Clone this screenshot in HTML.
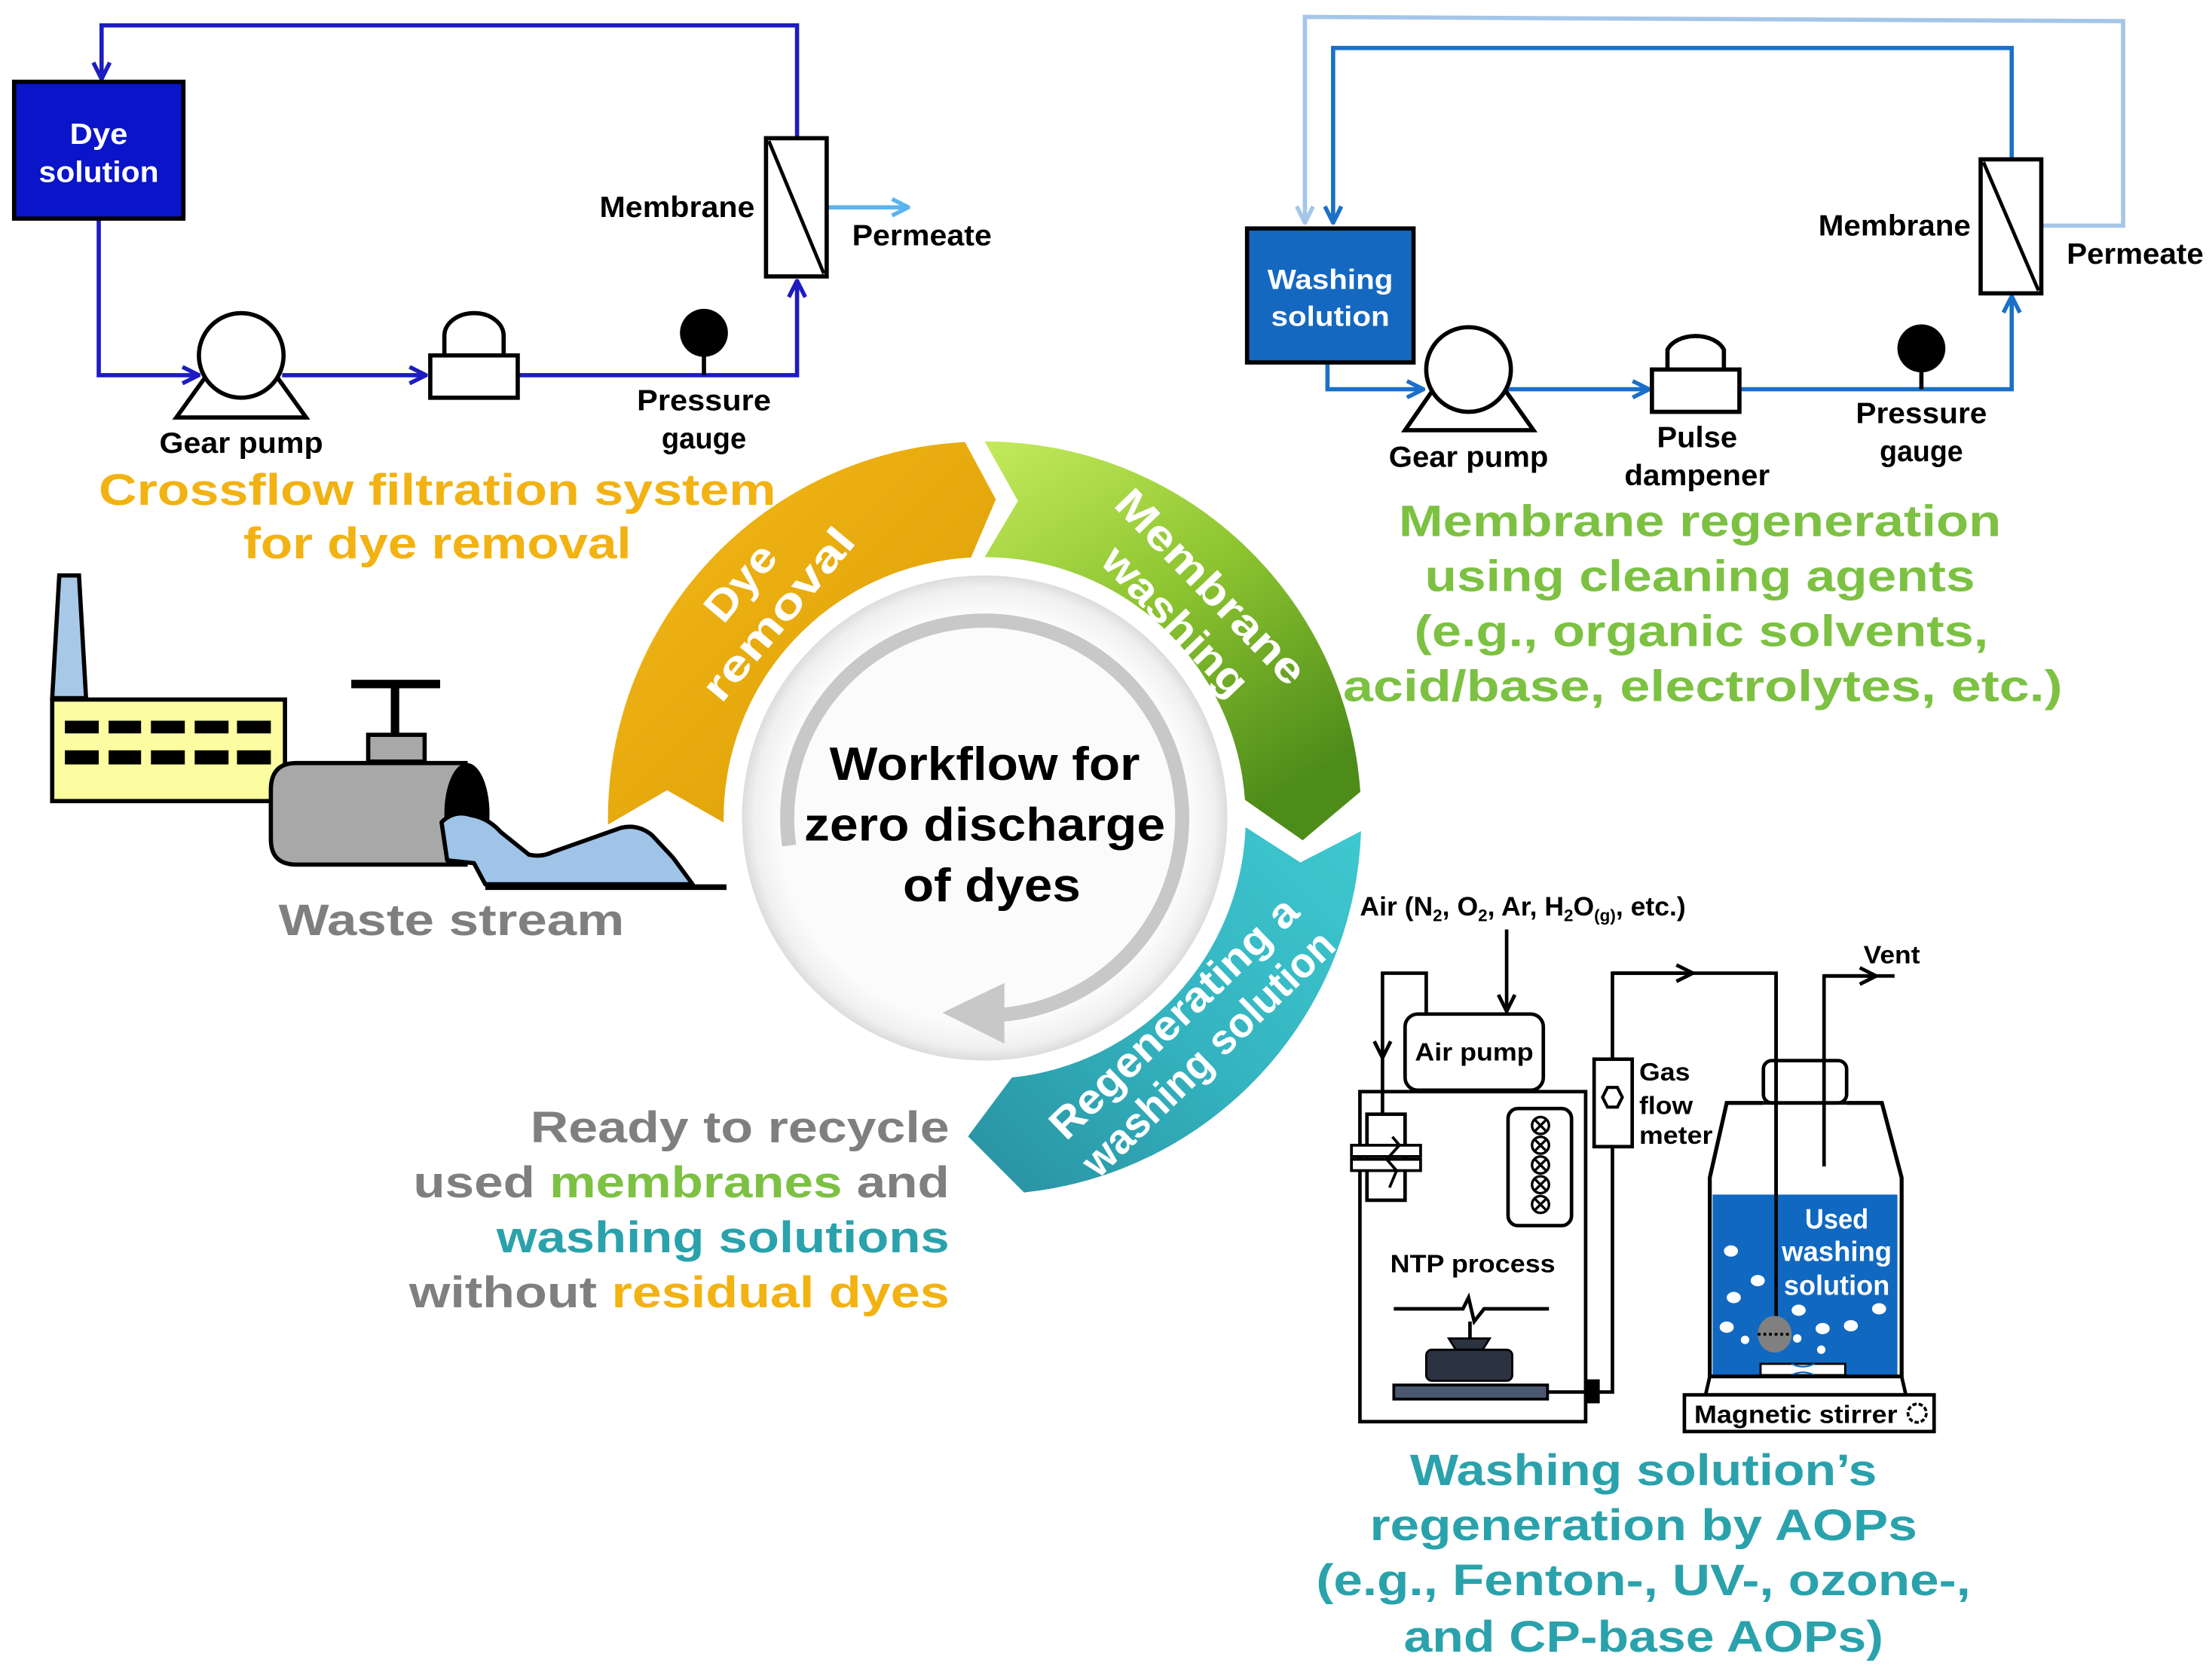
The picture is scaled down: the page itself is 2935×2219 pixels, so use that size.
<!DOCTYPE html>
<html><head><meta charset="utf-8"><style>
html,body{margin:0;padding:0;background:#fff;}
svg{display:block;}
text{font-family:"Liberation Sans",Arial,sans-serif;font-weight:bold;}
</style></head><body>
<svg width="2935" height="2219" viewBox="0 0 1568 1185.5" preserveAspectRatio="none" xmlns="http://www.w3.org/2000/svg" font-family="Liberation Sans, Arial, sans-serif">
<defs>
<marker id="mb" viewBox="0 0 12 12" refX="11" refY="6" markerWidth="14" markerHeight="14" markerUnits="userSpaceOnUse" orient="auto"><path d="M1,1 L11,6 L1,11" fill="none" stroke="#1c1cc0" stroke-width="2.5"/></marker>
<marker id="mw" viewBox="0 0 12 12" refX="11" refY="6" markerWidth="14" markerHeight="14" markerUnits="userSpaceOnUse" orient="auto"><path d="M1,1 L11,6 L1,11" fill="none" stroke="#1a70c8" stroke-width="2.5"/></marker>
<marker id="ml" viewBox="0 0 12 12" refX="11" refY="6" markerWidth="14" markerHeight="14" markerUnits="userSpaceOnUse" orient="auto"><path d="M1,1 L11,6 L1,11" fill="none" stroke="#a4c6e8" stroke-width="2.5"/></marker>
<marker id="mp" viewBox="0 0 12 12" refX="11" refY="6" markerWidth="14" markerHeight="14" markerUnits="userSpaceOnUse" orient="auto"><path d="M1,1 L11,6 L1,11" fill="none" stroke="#5ab4f0" stroke-width="2.5"/></marker>
<marker id="mk" viewBox="0 0 12 12" refX="11" refY="6" markerWidth="14" markerHeight="14" markerUnits="userSpaceOnUse" orient="auto"><path d="M1,1 L11,6 L1,11" fill="none" stroke="#000" stroke-width="2.2"/></marker>
<linearGradient id="go" x1="0" y1="0" x2="1" y2="1"><stop offset="0" stop-color="#f4b81a"/><stop offset="0.6" stop-color="#e4a80c"/><stop offset="1" stop-color="#c08a0c"/></linearGradient>
<linearGradient id="gg" x1="0" y1="0" x2="0.6" y2="1"><stop offset="0" stop-color="#c4ea5c"/><stop offset="0.5" stop-color="#8cc430"/><stop offset="1" stop-color="#4e8c1a"/></linearGradient>
<linearGradient id="gt" x1="1" y1="0" x2="0" y2="1"><stop offset="0" stop-color="#3ec8d0"/><stop offset="0.5" stop-color="#34b4c0"/><stop offset="1" stop-color="#2890a0"/></linearGradient>
<radialGradient id="gd" cx="0.5" cy="0.5" r="0.5"><stop offset="0.85" stop-color="#fbfbfb"/><stop offset="0.95" stop-color="#f0f0f0"/><stop offset="1" stop-color="#dcdcdc"/></radialGradient>
</defs>

<!-- ===== Top-left crossflow ===== -->
<g fill="none" stroke="#1c1cc0" stroke-width="3">
<path d="M565,98 L565,18 L72,18 L72,56" marker-end="url(#mb)"/>
<path d="M70,155 L70,266 L141,266" marker-end="url(#mb)"/>
<path d="M200,266 L302,266" marker-end="url(#mb)"/>
<path d="M367,266 L565,266 L565,199" marker-end="url(#mb)"/>
</g>
<path d="M586,147 L644,147" stroke="#5ab4f0" stroke-width="3" fill="none" marker-end="url(#mp)"/>
<rect x="10" y="58" width="120" height="97" fill="#0a14c8" stroke="#000" stroke-width="3"/>
<text x="70" y="102" font-size="21" fill="#fff" text-anchor="middle" textLength="41" lengthAdjust="spacingAndGlyphs">Dye</text>
<text x="70" y="129" font-size="21" fill="#fff" text-anchor="middle" textLength="85" lengthAdjust="spacingAndGlyphs">solution</text>
<polygon points="125,296 217,296 171,232" fill="#fff" stroke="#000" stroke-width="3"/>
<circle cx="171" cy="252" r="30" fill="#fff" stroke="#000" stroke-width="3"/>
<path d="M315,252 L315,238 A21,16 0 0 1 357,238 L357,252" fill="#fff" stroke="#000" stroke-width="3"/>
<rect x="305" y="252" width="62" height="30" fill="#fff" stroke="#000" stroke-width="3"/>
<line x1="499" y1="240" x2="499" y2="266" stroke="#000" stroke-width="3"/>
<circle cx="499" cy="236" r="17" fill="#000"/>
<rect x="543" y="98" width="43" height="98" fill="#fff" stroke="#000" stroke-width="3"/>
<line x1="545" y1="100" x2="584" y2="194" stroke="#000" stroke-width="2.5"/>
<g font-size="21" fill="#000">
<text x="535" y="154" text-anchor="end" textLength="110" lengthAdjust="spacingAndGlyphs">Membrane</text>
<text x="604" y="174" textLength="99" lengthAdjust="spacingAndGlyphs">Permeate</text>
<text x="171" y="321" text-anchor="middle" textLength="116" lengthAdjust="spacingAndGlyphs">Gear pump</text>
<text x="499" y="291" text-anchor="middle" textLength="95" lengthAdjust="spacingAndGlyphs">Pressure</text>
<text x="499" y="318" text-anchor="middle" textLength="60" lengthAdjust="spacingAndGlyphs">gauge</text>
</g>
<g font-size="31" fill="#f2b212" text-anchor="middle">
<text x="310" y="358" textLength="480" lengthAdjust="spacingAndGlyphs">Crossflow filtration system</text>
<text x="310" y="396" textLength="275" lengthAdjust="spacingAndGlyphs">for dye removal</text>
</g>

<!-- ===== Top-right membrane regeneration ===== -->
<path d="M1447,160 L1505,160 L1505,15 L925,12 L925,158" fill="none" stroke="#a4c6e8" stroke-width="3" marker-end="url(#ml)"/>
<g fill="none" stroke="#1a70c8" stroke-width="3">
<path d="M1426,113 L1426,34 L945,34 L945,158" marker-end="url(#mw)"/>
<path d="M941,257 L941,276 L1009,276" marker-end="url(#mw)"/>
<path d="M1068,276 L1169,276" marker-end="url(#mw)"/>
<path d="M1233,276 L1426,276 L1426,210" marker-end="url(#mw)"/>
</g>
<rect x="884" y="162" width="118" height="95" fill="#1468c0" stroke="#000" stroke-width="3"/>
<text x="943" y="205" font-size="20" fill="#fff" text-anchor="middle" textLength="89" lengthAdjust="spacingAndGlyphs">Washing</text>
<text x="943" y="231" font-size="20" fill="#fff" text-anchor="middle" textLength="84" lengthAdjust="spacingAndGlyphs">solution</text>
<polygon points="996,305 1087,305 1041,240" fill="#fff" stroke="#000" stroke-width="3"/>
<circle cx="1041" cy="262" r="30" fill="#fff" stroke="#000" stroke-width="3"/>
<path d="M1182,262 L1182,248 A21,14 0 0 1 1222,248 L1222,262" fill="#fff" stroke="#000" stroke-width="3"/>
<rect x="1171" y="262" width="62" height="30" fill="#fff" stroke="#000" stroke-width="3"/>
<line x1="1362" y1="250" x2="1362" y2="276" stroke="#000" stroke-width="3"/>
<circle cx="1362" cy="247" r="17" fill="#000"/>
<rect x="1404" y="113" width="43" height="95" fill="#fff" stroke="#000" stroke-width="3"/>
<line x1="1406" y1="115" x2="1445" y2="206" stroke="#000" stroke-width="2.5"/>
<g font-size="21" fill="#000">
<text x="1397" y="167" text-anchor="end" textLength="108" lengthAdjust="spacingAndGlyphs">Membrane</text>
<text x="1465" y="187" textLength="97" lengthAdjust="spacingAndGlyphs">Permeate</text>
<text x="1041" y="331" text-anchor="middle" textLength="113" lengthAdjust="spacingAndGlyphs">Gear pump</text>
<text x="1203" y="317" text-anchor="middle" textLength="57" lengthAdjust="spacingAndGlyphs">Pulse</text>
<text x="1203" y="344" text-anchor="middle" textLength="103" lengthAdjust="spacingAndGlyphs">dampener</text>
<text x="1362" y="300" text-anchor="middle" textLength="93" lengthAdjust="spacingAndGlyphs">Pressure</text>
<text x="1362" y="327" text-anchor="middle" textLength="59" lengthAdjust="spacingAndGlyphs">gauge</text>
</g>
<g font-size="31" fill="#7cc142" text-anchor="middle">
<text x="1205" y="380" textLength="427" lengthAdjust="spacingAndGlyphs">Membrane regeneration</text>
<text x="1205" y="419" textLength="390" lengthAdjust="spacingAndGlyphs">using cleaning agents</text>
<text x="1206" y="458" textLength="407" lengthAdjust="spacingAndGlyphs">(e.g., organic solvents,</text>
<text x="1207" y="497" textLength="510" lengthAdjust="spacingAndGlyphs">acid/base, electrolytes, etc.)</text>
</g>

<!-- ===== Factory / waste ===== -->
<polygon points="37,495 42,408 56,408 61,495" fill="#a8c8e8" stroke="#000" stroke-width="3"/>
<rect x="37" y="496" width="165" height="72" fill="#fcfca0" stroke="#000" stroke-width="3"/>
<g fill="#000">
<rect x="46" y="511" width="24" height="9"/><rect x="77" y="511" width="23" height="9"/><rect x="107" y="511" width="24" height="9"/><rect x="138" y="511" width="24" height="9"/><rect x="168" y="511" width="24" height="9"/>
<rect x="46" y="532" width="24" height="10"/><rect x="77" y="532" width="23" height="10"/><rect x="107" y="532" width="24" height="10"/><rect x="138" y="532" width="24" height="10"/><rect x="168" y="532" width="24" height="10"/>
</g>
<rect x="249" y="482" width="63" height="6" fill="#000"/>
<rect x="277" y="486" width="6" height="36" fill="#000"/>
<rect x="261" y="521" width="40" height="19" fill="#a8a8a8" stroke="#000" stroke-width="3"/>
<path d="M330,541 L210,541 Q192,541 192,560 L192,595 Q192,613 210,613 L330,613 Z" fill="#a8a8a8" stroke="#000" stroke-width="3"/>
<ellipse cx="331" cy="577" rx="16" ry="36" fill="#000"/>
<path d="M313,583 Q322,574 334,578 Q346,580 355,590 L375,606 Q384,608 392,604 L440,587 Q452,584 462,592 L477,608 L491,627 L344,627 L336,612 L317,610 Z" fill="#a0c4e8" stroke="#000" stroke-width="3" stroke-linejoin="round"/>
<line x1="344" y1="629" x2="515" y2="629" stroke="#000" stroke-width="4"/>
<text x="320" y="663" font-size="31" fill="#7f7f7f" text-anchor="middle" textLength="245" lengthAdjust="spacingAndGlyphs">Waste stream</text>

<!-- ===== Central cycle ===== -->
<path d="M431,584.7 A267,267 0 0 1 684,313.4 L705.9,354.1 L688.3,395.3 A185,185 0 0 0 513,583.2 L472.9,560.3 Z" fill="url(#go)"/>
<path d="M698,313 A267,267 0 0 1 964.3,561.4 L923.4,595.8 L882.5,567.1 A185,185 0 0 0 698,395 L721.6,355.2 Z" fill="url(#gg)"/>
<path d="M964.8,589.3 A267,267 0 0 1 725.9,845.5 L686.2,805.7 L717.3,764 A185,185 0 0 0 882.9,586.5 L921.8,611.5 Z" fill="url(#gt)"/>
<circle cx="698" cy="580" r="172" fill="url(#gd)"/>
<path d="M559.4,599.5 A140,140 0 1 1 707.8,719.7" fill="none" stroke="#c8c8c8" stroke-width="10"/>
<polygon points="668,718 712,697 712,740" fill="#c8c8c8"/>
<g font-size="33" fill="#000" text-anchor="middle">
<text x="698" y="553" textLength="220" lengthAdjust="spacingAndGlyphs">Workflow for</text>
<text x="698" y="596" textLength="256" lengthAdjust="spacingAndGlyphs">zero discharge</text>
<text x="703" y="639" textLength="126" lengthAdjust="spacingAndGlyphs">of dyes</text>
</g>
<g font-size="30" fill="#fff" text-anchor="middle">
<g transform="translate(538,424) rotate(-50)"><text x="0" y="-7" textLength="62" lengthAdjust="spacingAndGlyphs">Dye</text><text x="0" y="28" textLength="150" lengthAdjust="spacingAndGlyphs">removal</text></g>
<g transform="translate(846,428) rotate(46)"><text x="0" y="-7" textLength="180" lengthAdjust="spacingAndGlyphs">Membrane</text><text x="0" y="28" textLength="135" lengthAdjust="spacingAndGlyphs">washing</text></g>
<g transform="translate(844,734) rotate(-44)"><text x="0" y="-7" textLength="232" lengthAdjust="spacingAndGlyphs">Regenerating a</text><text x="0" y="28" textLength="236" lengthAdjust="spacingAndGlyphs">washing solution</text></g>
</g>

<!-- ===== Ready to recycle ===== -->
<g font-size="31" text-anchor="end">
<text x="673" y="810" fill="#7f7f7f" textLength="297" lengthAdjust="spacingAndGlyphs">Ready to recycle</text>
<text x="673" y="849" fill="#7f7f7f" textLength="380" lengthAdjust="spacingAndGlyphs">used <tspan fill="#7cc142">membranes</tspan> and</text>
<text x="673" y="888" fill="#2aa2ac" textLength="321" lengthAdjust="spacingAndGlyphs">washing solutions</text>
<text x="673" y="927" fill="#7f7f7f" textLength="383" lengthAdjust="spacingAndGlyphs">without <tspan fill="#f2b212">residual dyes</tspan></text>
</g>

<!-- ===== NTP apparatus ===== -->
<text x="964" y="649" font-size="19" fill="#000">Air (N<tspan font-size="12" dy="4">2</tspan><tspan dy="-4">, O</tspan><tspan font-size="12" dy="4">2</tspan><tspan dy="-4">, Ar, H</tspan><tspan font-size="12" dy="4">2</tspan><tspan dy="-4">O</tspan><tspan font-size="12" dy="4">(g)</tspan><tspan dy="-4">, etc.)</tspan></text>
<g fill="none" stroke="#000" stroke-width="2.5">
<path d="M1068,659 L1068,717" marker-end="url(#mk)"/>
<path d="M1011,719 L1011,690 L980,690 L980,750" marker-end="url(#mk)"/>
<line x1="980" y1="748" x2="980" y2="790"/>
<rect x="996" y="719" width="98" height="54" rx="9" fill="#fff"/>
<rect x="964" y="774" width="160" height="234" fill="none"/>
<rect x="969" y="790" width="27" height="61" fill="#fff"/>
<rect x="1069" y="786" width="45" height="83" rx="7" fill="#fff"/>
<path d="M988,928 L1037,928 L1041,920 L1045,937 L1052,928 L1098,928"/>
<line x1="1042" y1="937" x2="1042" y2="949"/>
<path d="M1130,987 L1143,987 L1143,813"/>
<rect x="1130" y="751" width="27" height="62" fill="#fff"/>
<path d="M1143,751 L1143,690 L1259,690 L1259,937"/>
<path d="M1143,690 L1200,690" marker-end="url(#mk)"/>
<path d="M1293,827 L1293,692 L1343,692"/>
<path d="M1293,692 L1330,692" marker-end="url(#mk)"/>
</g>
<g fill="#fff" stroke="#000" stroke-width="2">
<rect x="958" y="812" width="49" height="8"/><rect x="958" y="822" width="49" height="8"/>
</g>
<path d="M987,806 L992,812 L983,822 L990,830 L985,842" fill="none" stroke="#000" stroke-width="2"/>
<g fill="none" stroke="#000" stroke-width="1.8">
<circle cx="1092" cy="798" r="6"/><circle cx="1092" cy="812" r="6"/><circle cx="1092" cy="826" r="6"/><circle cx="1092" cy="840" r="6"/><circle cx="1092" cy="854" r="6"/>
<path d="M1088,794 L1096,802 M1096,794 L1088,802 M1088,808 L1096,816 M1096,808 L1088,816 M1088,822 L1096,830 M1096,822 L1088,830 M1088,836 L1096,844 M1096,836 L1088,844 M1088,850 L1096,858 M1096,850 L1088,858"/>
</g>
<polygon points="1136,778 1139.5,771 1146.5,771 1150,778 1146.5,785 1139.5,785" fill="#fff" stroke="#000" stroke-width="2.2"/>
<polygon points="1027,949 1056,949 1051,957 1032,957" fill="#2b3240" stroke="#000" stroke-width="1.5"/>
<rect x="1011" y="957" width="61" height="22" rx="4" fill="#2b3240" stroke="#000" stroke-width="1.5"/>
<rect x="988" y="982" width="109" height="10" fill="#4a5870" stroke="#000" stroke-width="2"/>
<rect x="1124" y="978" width="10" height="17" fill="#000"/>
<line x1="1097" y1="987" x2="1124" y2="987" stroke="#000" stroke-width="2.5"/>
<g font-size="18" fill="#000">
<text x="1045" y="752" text-anchor="middle" textLength="84" lengthAdjust="spacingAndGlyphs">Air pump</text>
<text x="1044" y="902" text-anchor="middle" textLength="117" lengthAdjust="spacingAndGlyphs">NTP process</text>
<text x="1162" y="766" textLength="36" lengthAdjust="spacingAndGlyphs">Gas</text>
<text x="1162" y="790" textLength="38" lengthAdjust="spacingAndGlyphs">flow</text>
<text x="1162" y="811" textLength="52" lengthAdjust="spacingAndGlyphs">meter</text>
<text x="1341" y="683" text-anchor="middle" textLength="40" lengthAdjust="spacingAndGlyphs">Vent</text>
</g>
<!-- bottle -->
<rect x="1214" y="847" width="131" height="129" fill="#1068c0"/>
<path d="M1250,782 L1224,782 L1212,835 L1212,976 L1348,976 L1348,835 L1334,782 L1309,782" fill="none" stroke="#000" stroke-width="2.8"/>
<rect x="1250" y="752" width="59" height="30" rx="6" fill="none" stroke="#000" stroke-width="2.5"/>
<line x1="1250" y1="782" x2="1309" y2="782" stroke="#000" stroke-width="2.5"/>
<line x1="1259" y1="690" x2="1259" y2="937" stroke="#000" stroke-width="2.5"/>
<g fill="#fff">
<ellipse cx="1227" cy="887" rx="5" ry="4"/><ellipse cx="1246" cy="908" rx="5" ry="4"/><ellipse cx="1229" cy="920" rx="5" ry="4"/><ellipse cx="1224" cy="941" rx="5" ry="4"/><circle cx="1237" cy="950" r="3"/><ellipse cx="1275" cy="929" rx="5" ry="4"/><ellipse cx="1292" cy="942" rx="5" ry="4"/><circle cx="1291" cy="957" r="3"/><ellipse cx="1312" cy="940" rx="5" ry="4"/><ellipse cx="1332" cy="928" rx="5" ry="4"/><circle cx="1274" cy="949" r="3"/>
</g>
<ellipse cx="1258" cy="946" rx="12" ry="13" fill="#808080"/>
<line x1="1246" y1="946" x2="1270" y2="946" stroke="#000" stroke-width="2" stroke-dasharray="2,2"/>
<rect x="1248" y="967" width="60" height="8" fill="#fff" stroke="#000" stroke-width="1.5"/>
<path d="M1270,967 Q1278,971 1286,967 M1270,975 Q1278,971 1286,975" fill="none" stroke="#1068c0" stroke-width="1.2"/>
<g font-size="20" fill="#fff" text-anchor="middle">
<text x="1302" y="871" textLength="45" lengthAdjust="spacingAndGlyphs">Used</text><text x="1302" y="894" textLength="78" lengthAdjust="spacingAndGlyphs">washing</text><text x="1302" y="918" textLength="75" lengthAdjust="spacingAndGlyphs">solution</text>
</g>
<polygon points="1212,976 1348,976 1351,989 1209,989" fill="#fff" stroke="#000" stroke-width="2.5"/>
<rect x="1194" y="989" width="177" height="26" fill="#fff" stroke="#000" stroke-width="2.5"/>
<text x="1201" y="1009" font-size="18" fill="#000" textLength="144" lengthAdjust="spacingAndGlyphs">Magnetic stirrer</text>
<circle cx="1359" cy="1002" r="6.5" fill="none" stroke="#000" stroke-width="2" stroke-dasharray="3,1.5"/>

<g font-size="31" fill="#2aa2ac" text-anchor="middle">
<text x="1165" y="1053" textLength="331" lengthAdjust="spacingAndGlyphs">Washing solution’s</text>
<text x="1165" y="1092" textLength="388" lengthAdjust="spacingAndGlyphs">regeneration by AOPs</text>
<text x="1165" y="1131" textLength="464" lengthAdjust="spacingAndGlyphs">(e.g., Fenton-, UV-, ozone-,</text>
<text x="1165" y="1171" textLength="340" lengthAdjust="spacingAndGlyphs">and CP-base AOPs)</text>
</g>
</svg>
</body></html>
